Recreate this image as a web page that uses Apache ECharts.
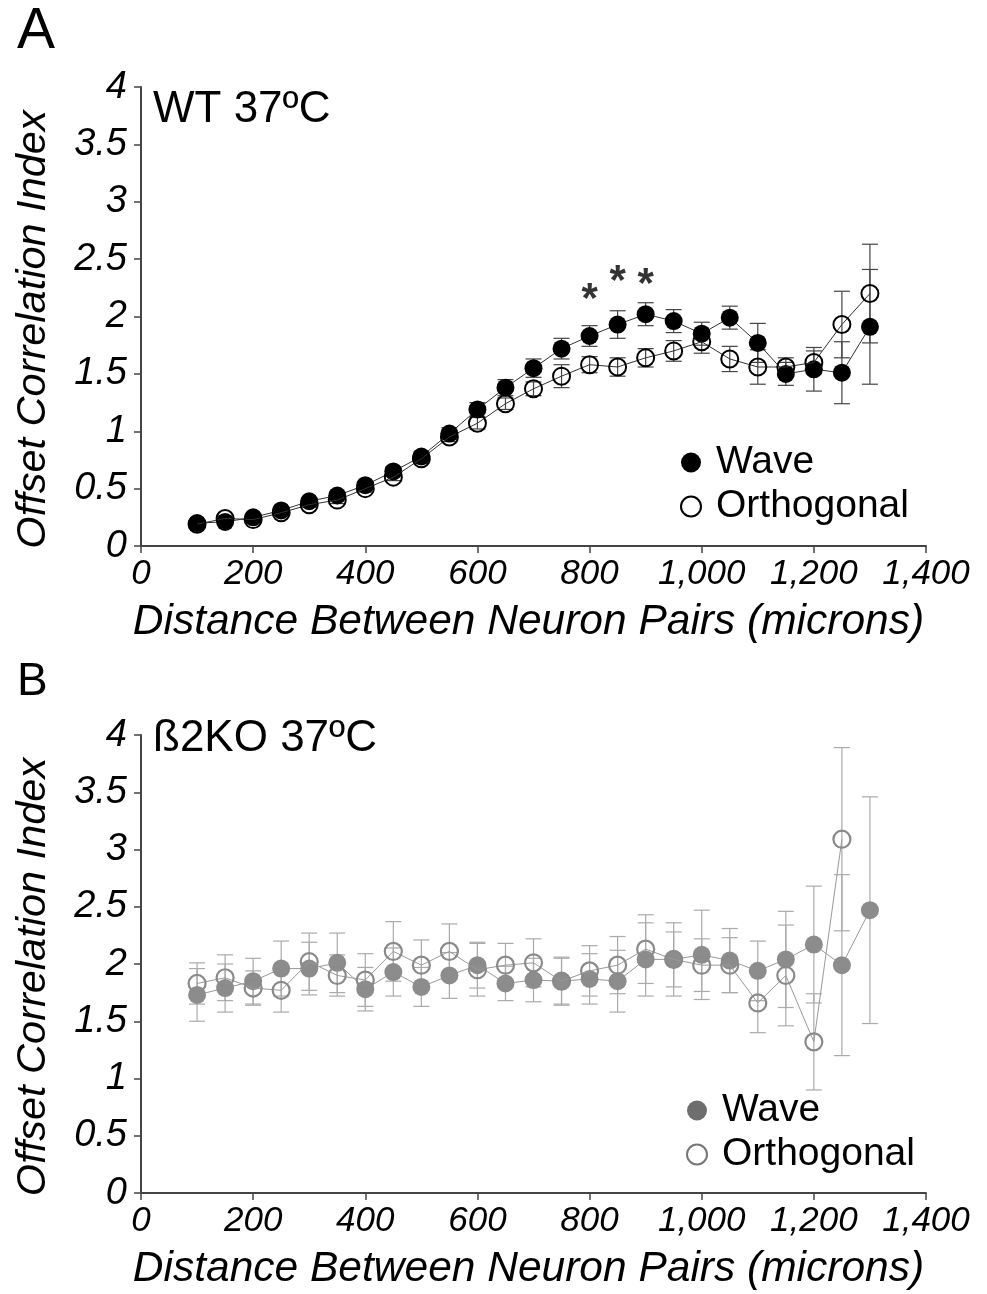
<!DOCTYPE html>
<html>
<head>
<meta charset="utf-8">
<script src="https://cdn.jsdelivr.net/npm/echarts@6/dist/echarts.min.js"></script>
<style>
html,body{margin:0;padding:0;background:#fff;}
#chart{width:987px;height:1294px;}
</style>
</head>
<body>
<div id="chart"></div>
<script>
// ---------- DATA ----------
const distances = [100,150,200,250,300,350,400,450,500,550,600,650,700,750,800,850,900,950,1000,1050,1100,1150,1200,1250,1300];
const xTicks = [0,200,400,600,800,1000,1200,1400];
const yTicks = [0,0.5,1,1.5,2,2.5,3,3.5,4];

// Panel A: WT 37ºC
const waveA     = [0.20,0.21,0.25,0.31,0.39,0.44,0.53,0.65,0.78,0.98,1.19,1.38,1.55,1.72,1.83,1.93,2.02,1.96,1.85,1.99,1.77,1.50,1.54,1.51,1.91];
const waveErrA  = [0.02,0.02,0.02,0.02,0.03,0.03,0.03,0.04,0.04,0.05,0.06,0.07,0.08,0.09,0.09,0.12,0.10,0.10,0.10,0.10,0.17,0.10,0.19,0.27,0.50];
const orthoA    = [0.19,0.24,0.23,0.29,0.36,0.40,0.50,0.60,0.76,0.95,1.07,1.24,1.37,1.48,1.58,1.56,1.64,1.70,1.78,1.63,1.56,1.56,1.60,1.93,2.20];
const orthoErrA = [0.02,0.02,0.02,0.02,0.02,0.03,0.03,0.03,0.04,0.04,0.05,0.05,0.06,0.10,0.07,0.08,0.08,0.09,0.10,0.11,0.15,0.08,0.10,0.29,0.43];
const sigMarksA = [[800,2.14],[850,2.30],[900,2.27]];

// Panel B: ß2KO 37ºC
const waveB     = [1.73,1.79,1.85,1.96,1.96,2.01,1.78,1.93,1.80,1.90,1.99,1.83,1.86,1.85,1.87,1.85,2.04,2.04,2.08,2.03,1.94,2.04,2.17,1.99,2.47];
const waveErrB  = [0.23,0.21,0.20,0.24,0.23,0.26,0.19,0.21,0.17,0.20,0.20,0.15,0.19,0.21,0.22,0.27,0.32,0.32,0.39,0.28,0.26,0.42,0.51,0.79,0.99];
const orthoB    = [1.83,1.88,1.79,1.77,2.02,1.90,1.86,2.11,1.99,2.11,1.95,1.99,2.01,1.85,1.94,1.99,2.13,2.04,1.99,1.99,1.66,1.90,1.32,3.09];
const orthoErrB = [0.18,0.20,0.15,0.19,0.25,0.18,0.23,0.26,0.22,0.24,0.23,0.19,0.21,0.20,0.22,0.25,0.30,0.24,0.23,0.24,0.26,0.44,0.42,0.80];

// ---------- CHART ----------
const FONT = 'Liberation Sans, Arial, sans-serif';
const chart = echarts.init(document.getElementById('chart'), null, {renderer:'canvas'});

function pts(vals){ return vals.map((v,i)=>[distances[i], v]); }
function errs(vals, e){ return vals.map((v,i)=>[distances[i], v-e[i], v+e[i]]); }

function errSeries(idx, vals, e, color, z){
  return {
    type:'custom', xAxisIndex:idx, yAxisIndex:idx, z:z, silent:true,
    data: errs(vals,e),
    encode:{x:0, y:[1,2]},
    renderItem:function(params, api){
      const x = api.value(0), lo = api.value(1), hi = api.value(2);
      const p1 = api.coord([x,lo]), p2 = api.coord([x,hi]);
      const w = 8;
      const st = {stroke:color, lineWidth:1.2};
      return {type:'group', children:[
        {type:'line', shape:{x1:p1[0],y1:p1[1],x2:p2[0],y2:p2[1]}, style:st},
        {type:'line', shape:{x1:p1[0]-w,y1:p1[1],x2:p1[0]+w,y2:p1[1]}, style:st},
        {type:'line', shape:{x1:p2[0]-w,y1:p2[1],x2:p2[0]+w,y2:p2[1]}, style:st}
      ]};
    }
  };
}

function xAxisDef(idx){
  return {
    type:'value', gridIndex:idx, min:0, max:1400, interval:200,
    name:'Distance Between Neuron Pairs (microns)', nameLocation:'middle', nameGap:55,
    nameTextStyle:{fontFamily:FONT, fontSize:42.5, fontStyle:'italic', color:'#000', padding:[0,10,0,0]},
    axisLine:{show:true, onZero:false, lineStyle:{color:'#444', width:2}},
    axisTick:{show:true, length:7, lineStyle:{color:'#444', width:1.5}},
    axisLabel:{fontFamily:FONT, fontSize:35, fontStyle:'italic', color:'#000', margin:11,
      formatter:function(v){ return v.toLocaleString('en-US'); }},
    splitLine:{show:false}
  };
}
function yAxisDef(idx){
  return {
    type:'value', gridIndex:idx, min:0, max:4, interval:0.5,
    name:'Offset Correlation Index', nameLocation:'middle', nameGap:87,
    nameTextStyle:{fontFamily:FONT, fontSize:41.5, fontStyle:'italic', color:'#000', padding:[0,26,0,0]},
    axisLine:{show:true, lineStyle:{color:'#444', width:2}},
    axisTick:{show:true, length:7, lineStyle:{color:'#444', width:1.5}},
    axisLabel:{fontFamily:FONT, fontSize:38, fontStyle:'italic', color:'#000', margin:14},
    splitLine:{show:false}
  };
}

const legendText = {fontFamily:FONT, fontSize:39, color:'#000', padding:[0,0,0,10]};

const option = {
  backgroundColor:'#fff',
  animation:false,
  title:[
    {text:'A', left:12, top:-1, textStyle:{fontFamily:FONT, fontSize:57, fontWeight:'normal', color:'#000'}},
    {text:'B', left:12, top:654, textStyle:{fontFamily:FONT, fontSize:46, fontWeight:'normal', color:'#000'}},
    {text:'WT 37ºC', left:148, top:83, textStyle:{fontFamily:FONT, fontSize:44, fontWeight:'normal', color:'#000'}},
    {text:'ß2KO 37ºC', left:148, top:712, textStyle:{fontFamily:FONT, fontSize:44, fontWeight:'normal', color:'#000'}}
  ],
  legend:[
    {orient:'vertical', left:675, top:438, itemWidth:20, itemHeight:20, itemGap:5, selectedMode:false,
     textStyle:legendText,
     data:[
       {name:'Wave', icon:'circle', itemStyle:{color:'#000', borderWidth:0}},
       {name:'Orthogonal', icon:'circle', itemStyle:{color:'#fff', borderColor:'#000', borderWidth:2}}
     ]},
    {orient:'vertical', left:681, top:1086, itemWidth:20, itemHeight:20, itemGap:5, selectedMode:false,
     textStyle:legendText,
     formatter:function(n){ return n.replace('B-',''); },
     data:[
       {name:'B-Wave', icon:'circle', itemStyle:{color:'#6e6e6e', borderWidth:0}},
       {name:'B-Orthogonal', icon:'circle', itemStyle:{color:'#fff', borderColor:'#777', borderWidth:2}}
     ]}
  ],
  grid:[
    {left:141, top:87, width:785, height:459, containLabel:false},
    {left:141, top:735, width:785, height:458, containLabel:false}
  ],
  xAxis:[xAxisDef(0), xAxisDef(1)],
  yAxis:[yAxisDef(0), yAxisDef(1)],
  series:[
    errSeries(0, orthoA, orthoErrA, '#444', 1),
    errSeries(0, waveA, waveErrA, '#444', 1),
    {name:'Wave', type:'line', xAxisIndex:0, yAxisIndex:0, z:3, data:pts(waveA),
     symbol:'circle', symbolSize:18, lineStyle:{color:'#333', width:1},
     itemStyle:{color:'#000', borderWidth:0}},
    {name:'Orthogonal', type:'line', xAxisIndex:0, yAxisIndex:0, z:4, data:pts(orthoA),
     symbol:'circle', symbolSize:17, lineStyle:{color:'#333', width:1},
     itemStyle:{color:'rgba(0,0,0,0)', borderColor:'#000', borderWidth:2}},
    {name:'sig', type:'scatter', xAxisIndex:0, yAxisIndex:0, z:5, silent:true, data:sigMarksA,
     symbol:'circle', symbolSize:1, itemStyle:{color:'rgba(0,0,0,0)'},
     label:{show:true, position:'inside', formatter:'*', fontFamily:FONT, fontSize:42, fontWeight:'bold', color:'#000'}},

    errSeries(1, orthoB, orthoErrB, '#aaa', 1),
    errSeries(1, waveB, waveErrB, '#aaa', 1),
    {name:'B-Wave', type:'line', xAxisIndex:1, yAxisIndex:1, z:3, data:pts(waveB),
     symbol:'circle', symbolSize:18, lineStyle:{color:'#999', width:1},
     itemStyle:{color:'#8c8c8c', borderWidth:0}},
    {name:'B-Orthogonal', type:'line', xAxisIndex:1, yAxisIndex:1, z:4, data:pts(orthoB),
     symbol:'circle', symbolSize:17, lineStyle:{color:'#999', width:1},
     itemStyle:{color:'rgba(0,0,0,0)', borderColor:'#8a8a8a', borderWidth:2.2}}
  ]
};
chart.setOption(option);
</script>
</body>
</html>
